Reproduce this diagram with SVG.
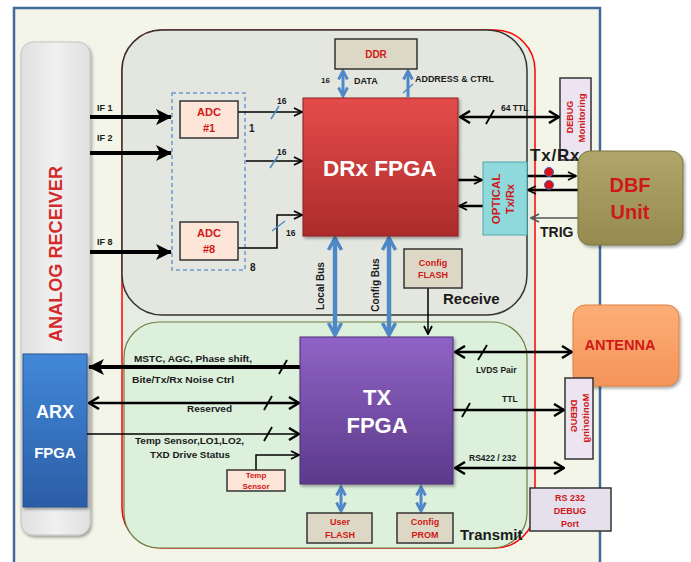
<svg xmlns="http://www.w3.org/2000/svg" width="691" height="562" viewBox="0 0 691 562">
<style>
.t{font-family:"Liberation Sans",Arial,sans-serif;font-weight:bold}
.k{fill:#1a1a1a}
.r{fill:#d01818}
.w{fill:#ffffff}
.box{stroke:#333;stroke-width:1.5}
.thick{stroke:#000;stroke-width:4;fill:none}
.med{stroke:#000;stroke-width:2.5;fill:none}
.thin{stroke:#000;stroke-width:1.5;fill:none}
.bus{stroke:#4f88c6;stroke-width:4.5;fill:none}
.bsm{stroke:#4f88c6;stroke-width:3;fill:none}
.slb{stroke:#4f88c6;stroke-width:1.5}
.slk{stroke:#000;stroke-width:1.8}
</style>
<defs>
<linearGradient id="gDRx" x1="0" y1="0" x2="0" y2="1"><stop offset="0" stop-color="#e44c4a"/><stop offset="1" stop-color="#ad2c2c"/></linearGradient>
<linearGradient id="gTX" x1="0" y1="0" x2="0" y2="1"><stop offset="0" stop-color="#8f63c6"/><stop offset="1" stop-color="#5c3a8a"/></linearGradient>
<linearGradient id="gARX" x1="0" y1="0" x2="0" y2="1"><stop offset="0" stop-color="#4288d8"/><stop offset="1" stop-color="#2b5da6"/></linearGradient>
<linearGradient id="gAR" x1="0" y1="0" x2="1" y2="0"><stop offset="0" stop-color="#e0e0e0"/><stop offset="0.5" stop-color="#f0f0f0"/><stop offset="1" stop-color="#e0e0e0"/></linearGradient>
<linearGradient id="gDBF" x1="0" y1="0" x2="0" y2="1"><stop offset="0" stop-color="#b0a66a"/><stop offset="1" stop-color="#958b50"/></linearGradient>
<linearGradient id="gANT" x1="0" y1="0" x2="0" y2="1"><stop offset="0" stop-color="#fcae76"/><stop offset="1" stop-color="#f4945a"/></linearGradient>
<filter id="sh" x="-10%" y="-10%" width="130%" height="130%"><feDropShadow dx="1.5" dy="2" stdDeviation="1.5" flood-opacity="0.35"/></filter>
<marker id="hk" viewBox="0 0 16 16" refX="15" refY="8" markerWidth="16" markerHeight="16" markerUnits="userSpaceOnUse" orient="auto-start-reverse"><path d="M0,0 L16,8 L0,16 L4,8 z" fill="#000"/></marker>
<marker id="hm" viewBox="0 0 12 14" refX="11" refY="7" markerWidth="12" markerHeight="14" markerUnits="userSpaceOnUse" orient="auto-start-reverse"><path d="M1,1 L11,7 L1,13" fill="none" stroke="#000" stroke-width="2.5"/></marker>
<marker id="hs" viewBox="0 0 10 10" refX="9" refY="5" markerWidth="10" markerHeight="10" markerUnits="userSpaceOnUse" orient="auto-start-reverse"><path d="M1,1 L9,5 L1,9" fill="none" stroke="#000" stroke-width="1.8"/></marker>
<marker id="hg" viewBox="0 0 10 10" refX="9" refY="5" markerWidth="10" markerHeight="10" markerUnits="userSpaceOnUse" orient="auto-start-reverse"><path d="M1,1 L9,5 L1,9" fill="none" stroke="#555" stroke-width="1.8"/></marker>
<marker id="hb" viewBox="0 0 16 16" refX="14" refY="8" markerWidth="16" markerHeight="16" markerUnits="userSpaceOnUse" orient="auto-start-reverse"><path d="M2,1.5 L14,8 L2,14.5" fill="none" stroke="#4f88c6" stroke-width="3.5"/></marker>
<marker id="hbs" viewBox="0 0 12 12" refX="10" refY="6" markerWidth="12" markerHeight="12" markerUnits="userSpaceOnUse" orient="auto-start-reverse"><path d="M1.5,1.5 L10,6 L1.5,10.5" fill="none" stroke="#4f88c6" stroke-width="2.8"/></marker>
</defs>

<g id="frame">
<rect x="14" y="8" width="586" height="570" fill="#f2f5e8" stroke="#46699c" stroke-width="2.5"/>
</g>

<g id="analog-receiver">
<rect x="21" y="42" width="69" height="493" rx="12" fill="url(#gAR)" stroke="#c4c4c4" filter="url(#sh)"/>
<text class="t" transform="translate(62,254) rotate(-90)" text-anchor="middle" font-size="19" font-weight="normal" fill="#d42a2a" textLength="176" lengthAdjust="spacingAndGlyphs">ANALOG RECEIVER</text>
</g>

<g id="arx-fpga">
<rect x="23" y="354" width="64" height="153" fill="url(#gARX)" stroke="#2a5590" filter="url(#sh)"/>
<text class="t w" x="55" y="418" text-anchor="middle" font-size="18">ARX</text>
<text class="t w" x="55" y="458" text-anchor="middle" font-size="15">FPGA</text>
</g>

<g id="regions">
<rect x="122" y="30" width="413" height="518" rx="40" fill="#e5ece1" stroke="#f00" stroke-width="1.5"/>
<rect id="receive" x="122" y="30" width="405" height="285" rx="40" fill="#e4e7e0" stroke="#333" stroke-width="1.5"/>
<rect id="transmit" x="124" y="322" width="403" height="226" rx="35" fill="#dcf0dc" stroke="#6d7d45" stroke-width="1.2"/>
<text class="t k" x="443" y="304" font-size="15">Receive</text>
<text class="t k" x="460" y="540" font-size="15">Transmit</text>
</g>

<g id="adc-group">
<rect x="172" y="93" width="73" height="177" fill="none" stroke="#6a9ad0" stroke-width="1.5" stroke-dasharray="4,3"/>
</g>

<g id="debug-top">
<rect class="box" x="560" y="78" width="31" height="82" fill="#ece4f0"/>
<text class="t r" transform="translate(573,117) rotate(-90)" text-anchor="middle" font-size="9">DEBUG</text>
<text class="t r" transform="translate(585,118) rotate(-90)" text-anchor="middle" font-size="9.5">Monitoring</text>
</g>

<g id="connectors">
<path class="thick" d="M90,117 H171" marker-end="url(#hk)"/>
<path class="thick" d="M90,153 H171" marker-end="url(#hk)"/>
<path class="thick" d="M90,252 H171" marker-end="url(#hk)"/>
<text class="t k" x="97" y="111" font-size="9">IF 1</text>
<text class="t k" x="97" y="141" font-size="9">IF 2</text>
<text class="t k" x="97" y="245" font-size="9">IF 8</text>

<path class="thin" d="M236,112 H302" marker-end="url(#hs)"/>
<path class="thin" d="M246,161 H302" marker-end="url(#hs)"/>
<path class="thin" d="M238,248 H277 V215 H302" marker-end="url(#hs)"/>
<line class="slb" x1="271" y1="119" x2="279" y2="106"/>
<line class="slb" x1="270" y1="168" x2="278" y2="156"/>
<line class="slb" x1="272" y1="231" x2="285" y2="221"/>
<text class="t k" x="277" y="104" font-size="8.5">16</text>
<text class="t k" x="277" y="155" font-size="8.5">16</text>
<text class="t k" x="286" y="236" font-size="8.5">16</text>
<text class="t k" x="249" y="132" font-size="10">1</text>
<text class="t k" x="250" y="271" font-size="10">8</text>

<path class="bsm" d="M343,71 V96" marker-start="url(#hbs)" marker-end="url(#hbs)"/>
<path class="bsm" d="M408,97 V71" marker-end="url(#hbs)"/>
<line class="slb" x1="403" y1="93" x2="413" y2="84"/>
<text class="t k" x="321" y="83" font-size="8">16</text>
<text class="t k" x="354" y="84" font-size="9">DATA</text>
<text class="t k" x="415" y="82" font-size="9" textLength="79" lengthAdjust="spacingAndGlyphs">ADDRESS &amp; CTRL</text>

<path class="med" d="M460,117 H559" marker-start="url(#hm)" marker-end="url(#hm)"/>
<line class="slk" x1="486" y1="124" x2="494" y2="110"/>
<text class="t k" x="501" y="111" font-size="8.5">64 TTL</text>

<path class="med" d="M458,180 H482" stroke-width="2" marker-end="url(#hs)"/>
<path class="med" d="M483,206 H459" stroke-width="2" marker-end="url(#hs)"/>
<path class="med" d="M527,176 H576" stroke-width="2" marker-end="url(#hs)"/>
<path class="med" d="M578,190 H528" stroke-width="2" marker-end="url(#hs)"/>
<circle cx="549" cy="172" r="4.5" fill="#e01010" stroke="#3a66c0" stroke-width="1"/>
<circle cx="549" cy="185" r="4.5" fill="#e01010" stroke="#3a66c0" stroke-width="1"/>
<text class="t k" x="530" y="161" font-size="17" letter-spacing="0.8">Tx/Rx</text>
<path d="M578,218 H531" stroke="#555" stroke-width="1.5" fill="none" marker-end="url(#hg)"/>
<text class="t k" x="540" y="237" font-size="14">TRIG</text>

<path class="bus" d="M335,238 V335" marker-start="url(#hb)" marker-end="url(#hb)"/>
<path class="bus" d="M389,238 V335" marker-start="url(#hb)" marker-end="url(#hb)"/>
<text class="t k" transform="translate(324,286) rotate(-90)" text-anchor="middle" font-size="10">Local Bus</text>
<text class="t k" transform="translate(379,285) rotate(-90)" text-anchor="middle" font-size="10">Config Bus</text>
<path class="thin" d="M428,288 V334" stroke-width="1.2" marker-end="url(#hs)"/>

<path class="thick" d="M300,367 H89" marker-end="url(#hk)"/>
<line class="slk" x1="279" y1="374" x2="287" y2="360"/>
<text class="t k" x="134" y="362" font-size="9" textLength="118" lengthAdjust="spacingAndGlyphs">MSTC,  AGC,  Phase shift,</text>
<text class="t k" x="132" y="383" font-size="9.5" textLength="102" lengthAdjust="spacingAndGlyphs">Bite/Tx/Rx Noise Ctrl</text>
<path class="med" d="M299,403 H89" marker-start="url(#hm)" marker-end="url(#hm)"/>
<line class="slk" x1="264" y1="410" x2="272" y2="396"/>
<text class="t k" x="187" y="412" font-size="9" textLength="45" lengthAdjust="spacingAndGlyphs">Reserved</text>
<path class="thin" d="M87,434 H299" marker-end="url(#hm)"/>
<line class="slk" x1="264" y1="441" x2="272" y2="427"/>
<text class="t k" x="135" y="444" font-size="9" textLength="109" lengthAdjust="spacingAndGlyphs">Temp Sensor,LO1,LO2,</text>
<text class="t k" x="150" y="458" font-size="9" textLength="80" lengthAdjust="spacingAndGlyphs">TXD Drive Status</text>
<path class="thin" d="M256,470 V455 H299" stroke-width="1.2" marker-end="url(#hs)"/>

<path class="med" d="M455,352 H572" marker-start="url(#hm)" marker-end="url(#hm)"/>
<line class="slk" x1="478" y1="360" x2="487" y2="345"/>
<text class="t k" x="476" y="373" font-size="8.5">LVDS Pair</text>
<path class="med" d="M453,410 H564" marker-end="url(#hm)"/>
<line class="slk" x1="462" y1="417" x2="470" y2="403"/>
<text class="t k" x="502" y="402" font-size="8.5">TTL</text>
<path class="med" d="M455,468 H564" stroke-width="2" marker-start="url(#hm)" marker-end="url(#hm)"/>
<text class="t k" x="469" y="461" font-size="8.5">RS422 / 232</text>

<path class="bsm" d="M341,487 V511" marker-start="url(#hbs)" marker-end="url(#hbs)"/>
<path class="bsm" d="M421,487 V511" marker-start="url(#hbs)" marker-end="url(#hbs)"/>
</g>

<g id="adc1">
<rect class="box" x="180" y="101" width="58" height="37" fill="#fde6d8"/>
<text class="t r" x="209" y="116" text-anchor="middle" font-size="11">ADC</text>
<text class="t r" x="209" y="132" text-anchor="middle" font-size="11">#1</text>
</g>
<g id="adc8">
<rect class="box" x="180" y="222" width="58" height="38" fill="#fde6d8"/>
<text class="t r" x="209" y="237" text-anchor="middle" font-size="11">ADC</text>
<text class="t r" x="209" y="253" text-anchor="middle" font-size="11">#8</text>
</g>

<g id="ddr">
<rect class="box" x="335" y="39" width="82" height="30" fill="#ddd8c5"/>
<text class="t r" x="376" y="58" text-anchor="middle" font-size="10">DDR</text>
</g>

<g id="drx-fpga">
<rect x="303" y="98" width="155" height="138" fill="url(#gDRx)" stroke="#8a2020" filter="url(#sh)"/>
<text class="t w" x="380" y="176" text-anchor="middle" font-size="22.5">DRx FPGA</text>
</g>

<g id="optical">
<rect x="483" y="162" width="44" height="73" fill="#8fd9dc" stroke="#4fa6ab"/>
<text class="t r" transform="translate(500,199) rotate(-90)" text-anchor="middle" font-size="11.5">OPTICAL</text>
<text class="t r" transform="translate(514,199) rotate(-90)" text-anchor="middle" font-size="11">Tx/Rx</text>
</g>

<g id="config-flash">
<rect class="box" x="404" y="249" width="58" height="39" fill="#ddd8c5"/>
<text class="t r" x="433" y="266" text-anchor="middle" font-size="9">Config</text>
<text class="t r" x="433" y="278" text-anchor="middle" font-size="9">FLASH</text>
</g>

<g id="dbf-unit">
<rect x="578" y="151" width="105" height="94" rx="12" fill="url(#gDBF)" stroke="#7d7540" filter="url(#sh)"/>
<text class="t r" x="630" y="192" text-anchor="middle" font-size="20">DBF</text>
<text class="t r" x="630" y="219" text-anchor="middle" font-size="20">Unit</text>
</g>

<g id="tx-fpga">
<rect x="300" y="337" width="153" height="147" fill="url(#gTX)" stroke="#4d2f78" filter="url(#sh)"/>
<text class="t w" x="377" y="405" text-anchor="middle" font-size="22">TX</text>
<text class="t w" x="377" y="433" text-anchor="middle" font-size="22">FPGA</text>
</g>

<g id="antenna">
<rect x="573" y="305" width="106" height="81" rx="12" fill="url(#gANT)" stroke="#e08040" filter="url(#sh)"/>
<text class="t r" x="620" y="350" text-anchor="middle" font-size="14.5">ANTENNA</text>
</g>

<g id="debug-bottom">
<rect class="box" x="565" y="378" width="28" height="81" fill="#ece4f0"/>
<text class="t r" transform="translate(577,416) scale(-1,1) rotate(90)" text-anchor="middle" font-size="9">DEBUG</text>
<text class="t r" transform="translate(589,418) scale(-1,1) rotate(90)" text-anchor="middle" font-size="9.5">Monitoring</text>
</g>

<g id="temp-sensor">
<rect class="box" x="227" y="470" width="58" height="21" fill="#fde6d8" stroke-width="1.2"/>
<text class="t r" x="256" y="478" text-anchor="middle" font-size="8">Temp</text>
<text class="t r" x="256" y="489" text-anchor="middle" font-size="8">Sensor</text>
</g>

<g id="user-flash">
<rect class="box" x="307" y="513" width="65" height="30" fill="#ddd8c5"/>
<text class="t r" x="340" y="525" text-anchor="middle" font-size="9">User</text>
<text class="t r" x="340" y="538" text-anchor="middle" font-size="9">FLASH</text>
</g>

<g id="config-prom">
<rect class="box" x="397" y="513" width="56" height="30" fill="#ddd8c5"/>
<text class="t r" x="425" y="525" text-anchor="middle" font-size="9">Config</text>
<text class="t r" x="425" y="538" text-anchor="middle" font-size="9">PROM</text>
</g>

<g id="rs232-debug">
<rect class="box" x="530" y="488" width="81" height="43" fill="#e6e0ec"/>
<text class="t r" x="570" y="501" text-anchor="middle" font-size="9">RS 232</text>
<text class="t r" x="570" y="514" text-anchor="middle" font-size="9">DEBUG</text>
<text class="t r" x="570" y="527" text-anchor="middle" font-size="9">Port</text>
</g>
</svg>
